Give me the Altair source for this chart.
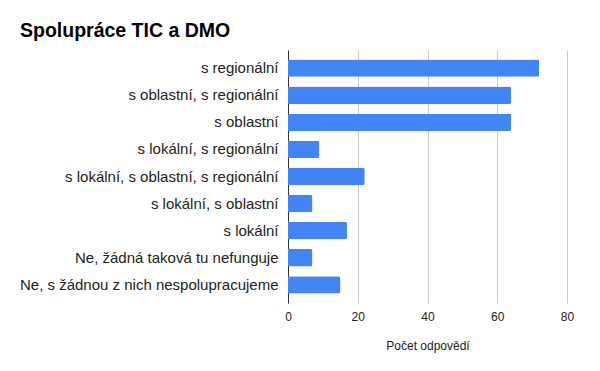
import altair as alt
import pandas as pd

categories = [
    "s regionální",
    "s oblastní, s regionální",
    "s oblastní",
    "s lokální, s regionální",
    "s lokální, s oblastní, s regionální",
    "s lokální, s oblastní",
    "s lokální",
    "Ne, žádná taková tu nefunguje",
    "Ne, s žádnou z nich nespolupracujeme",
]
values = [72, 64, 64, 9, 22, 7, 17, 7, 15]
x_ticks = [0, 20, 40, 60, 80]

df = pd.DataFrame({"kategorie": categories, "pocet": values})

FONT = "Liberation Sans"

chart = (
    alt.Chart(df)
    .mark_bar(color="#4285F4", cornerRadiusEnd=2)
    .encode(
        x=alt.X(
            "pocet:Q",
            title="Počet odpovědí",
            scale=alt.Scale(domain=[0, 80], nice=False),
            axis=alt.Axis(
                values=x_ticks,
                grid=True,
                gridColor="#cccccc",
                domain=False,
                ticks=False,
                labelFlush=False,
                labelFontSize=12,
                labelColor="#222222",
                labelFont=FONT,
                labelPadding=8,
                titleFontSize=12,
                titleFont=FONT,
                titleFontWeight="normal",
                titleColor="#222222",
                titlePadding=18,
            ),
        ),
        y=alt.Y(
            "kategorie:N",
            sort=categories,
            title=None,
            scale=alt.Scale(paddingInner=0.36, paddingOuter=0.35),
            axis=alt.Axis(
                ticks=False,
                domain=True,
                domainColor="#333333",
                labelFontSize=15,
                labelFont=FONT,
                labelColor="#222222",
                labelPadding=10,
                labelLimit=400,
            ),
        ),
    )
    .properties(
        width=279,
        height=253,
        autosize=alt.AutoSizeParams(type="none"),
        padding={"left": 280, "top": 42, "right": 20, "bottom": 60},
        title=alt.TitleParams(
            "Spolupráce TIC a DMO",
            anchor="start",
            frame="group",
            font=FONT,
            fontSize=19.5,
            fontWeight="bold",
            color="#000000",
            dx=-268,
            offset=9,
        ),
    )
    .configure_view(stroke=None)
)

chart.save("out.html", embed_options={"renderer": "svg", "actions": False})
